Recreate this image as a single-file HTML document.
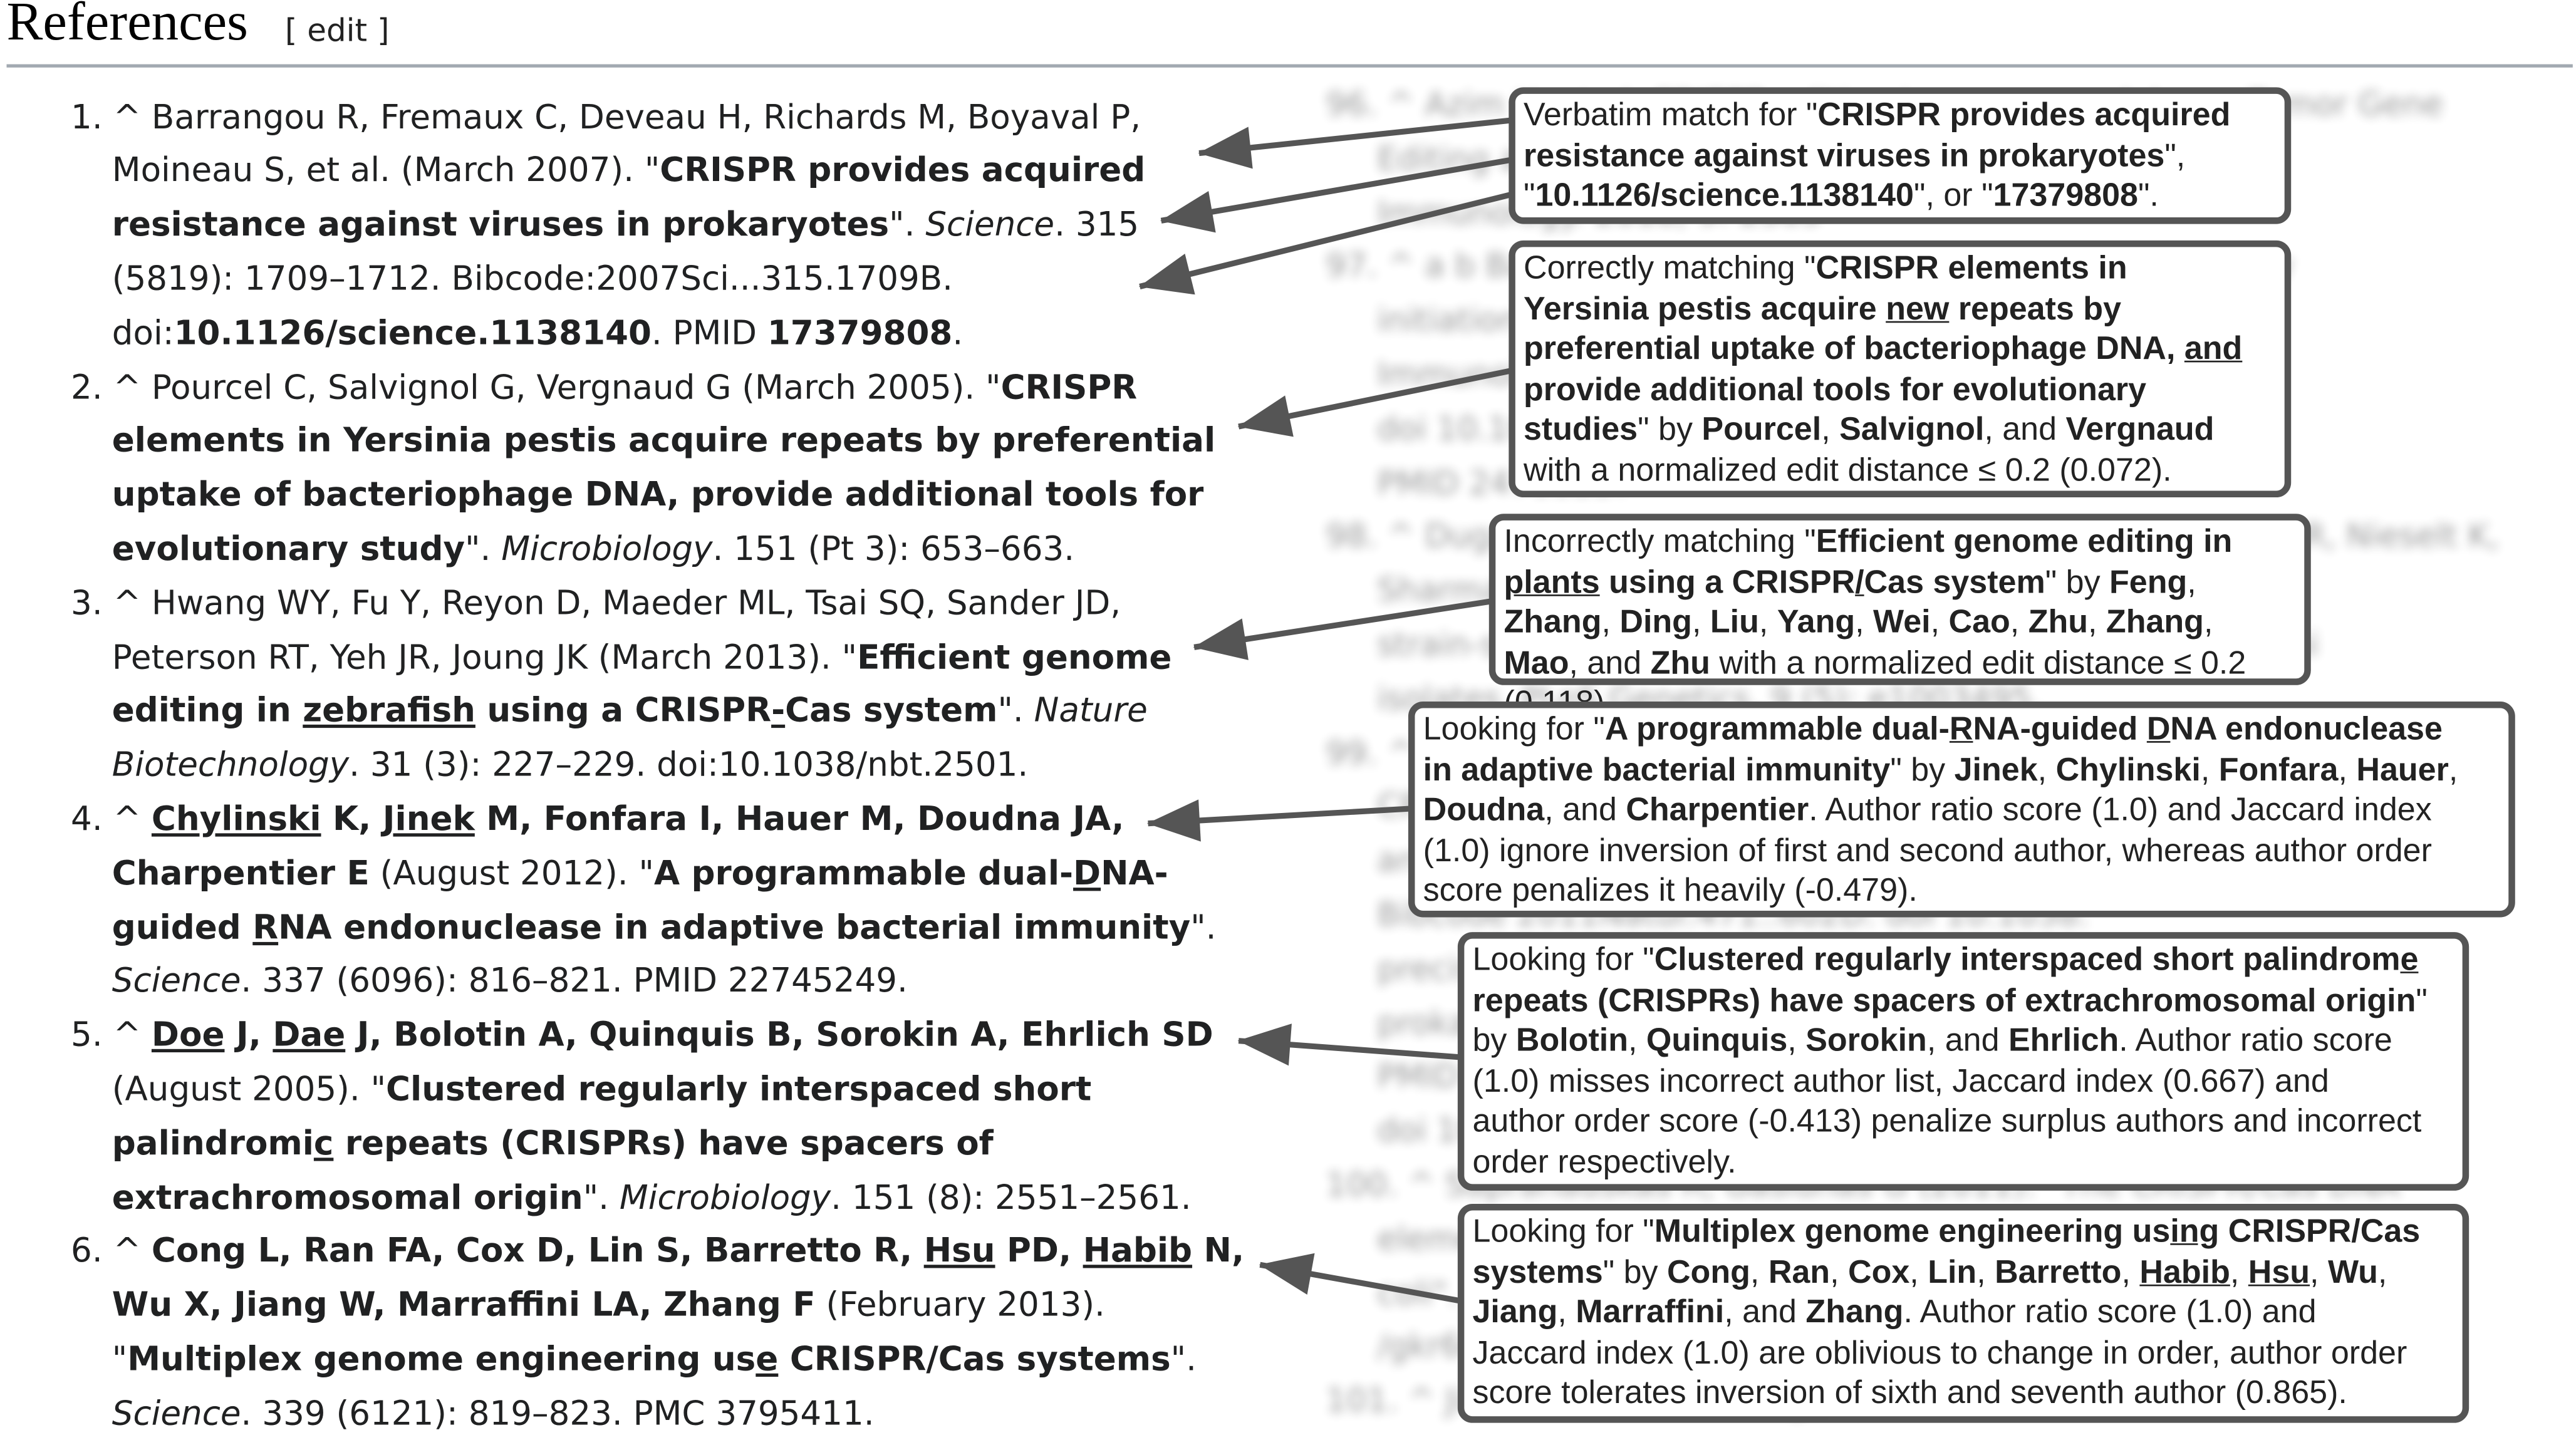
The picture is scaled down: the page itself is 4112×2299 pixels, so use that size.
<!DOCTYPE html>
<html><head><meta charset="utf-8"><style>
html,body{margin:0;padding:0;background:#fff;width:4112px;height:2292px;overflow:hidden}
#s{position:absolute;left:0;top:0;width:1564px;height:872px;transform:scale(2.6292);transform-origin:0 0}
.h{position:absolute;left:4px;top:-4px;font-family:"Liberation Serif",serif;font-size:33px;color:#000}
.ed{position:absolute;left:173px;top:8px;font-family:"DejaVu Sans",sans-serif;font-size:19px;color:#222}
.rule{position:absolute;left:4px;top:39px;width:1558px;height:2px;background:#a2a9b1}
.L{position:absolute;font-family:"DejaVu Sans",sans-serif;font-size:20.2px;color:#202122;white-space:nowrap;line-height:32.8px}
.bl{position:absolute;left:805px;top:48px;width:760px;font-family:"DejaVu Sans",sans-serif;font-size:19.6px;color:#202122;line-height:32.8px;filter:blur(3px);opacity:.45;white-space:nowrap}
.box{position:absolute;border:4px solid #555;border-radius:9px;background:#fff;font-family:"Liberation Sans",sans-serif;font-size:19.8px;line-height:24.5px;color:#222;padding:1px 5px;box-sizing:border-box;white-space:nowrap}
b{font-weight:bold}
u{text-decoration:underline}
</style></head><body>
<div id="s">
<div class="h">References</div>
<div class="ed">[ edit ]</div>
<div class="rule"></div>

<div class="bl">
<div>96. ^ Azim H, et al. CRISPR editing in mouse models em Tumor Gene</div>
<div>&nbsp;&nbsp;&nbsp;&nbsp;&nbsp;Editing approaches and therapies. Frontiers in</div>
<div>&nbsp;&nbsp;&nbsp;&nbsp;&nbsp;Immunology. 2018; 9: 2303</div>
<div>97. ^ a b Barrangou R, Marraffini LA. CRISPR viral immunity</div>
<div>&nbsp;&nbsp;&nbsp;&nbsp;&nbsp;initiation and adaptive immunity in bacteria".</div>
<div>&nbsp;&nbsp;&nbsp;&nbsp;&nbsp;Immunology. 2014 (5): 2351-2346.</div>
<div>&nbsp;&nbsp;&nbsp;&nbsp;&nbsp;doi 10.1016/j.molcel.2014.03.000.</div>
<div>&nbsp;&nbsp;&nbsp;&nbsp;&nbsp;PMID 24766887</div>
<div>98. ^ Dugar G, Herbig A, Förstner KU, Heidrich N, Reinhardt R, Nieselt K,</div>
<div>&nbsp;&nbsp;&nbsp;&nbsp;&nbsp;Sharma CM. High-resolution transcriptome maps reveal</div>
<div>&nbsp;&nbsp;&nbsp;&nbsp;&nbsp;strain-specific regulatory features of Campylobacter jejuni</div>
<div>&nbsp;&nbsp;&nbsp;&nbsp;&nbsp;isolates. PLoS Genetics. 9 (5): e1003495.</div>
<div>99. ^ Deltcheva E, Chylinski K, Sharma CM, Gonzales K.</div>
<div>&nbsp;&nbsp;&nbsp;&nbsp;&nbsp;CRISPR RNA maturation by trans-encoded small RNA</div>
<div>&nbsp;&nbsp;&nbsp;&nbsp;&nbsp;and host factor RNase III. Nature 471 (7340).</div>
<div>&nbsp;&nbsp;&nbsp;&nbsp;&nbsp;Bibcode 2011Natur.471..602D. doi 10.1038.</div>
<div>&nbsp;&nbsp;&nbsp;&nbsp;&nbsp;precise RNA-guided cleavage hallmarks of the family of</div>
<div>&nbsp;&nbsp;&nbsp;&nbsp;&nbsp;prokaryotic immune systems. Biology Direct 1 22.</div>
<div>&nbsp;&nbsp;&nbsp;&nbsp;&nbsp;PMID 16545108</div>
<div>&nbsp;&nbsp;&nbsp;&nbsp;&nbsp;doi 10.1186/1745-6150-1-7.</div>
<div>100. ^ Sapranauskas R, Gasiunas G (2011). "The CRISPR/Cas DNA</div>
<div>&nbsp;&nbsp;&nbsp;&nbsp;&nbsp;element system provides immunity in Escherichia</div>
<div>&nbsp;&nbsp;&nbsp;&nbsp;&nbsp;coli". Nucleic Acids Research. 39 (21) Sormar</div>
<div>&nbsp;&nbsp;&nbsp;&nbsp;&nbsp;/gkr606. PMID 21813460.</div>
<div>101. ^ Jinek M, East A, Cheng A (2013). eLife 2.</div>
</div>

<div class="L" style="left:43px;top:54.6px">
<div>1. ^ Barrangou R, Fremaux C, Deveau H, Richards M, Boyaval P,</div>
<div style="padding-left:25px">Moineau S, et al. (March 2007). "<b>CRISPR provides acquired</b></div>
<div style="padding-left:25px"><b>resistance against viruses in prokaryotes</b>". <i>Science</i>. 315</div>
<div style="padding-left:25px">(5819): 1709–1712. Bibcode:2007Sci...315.1709B.</div>
<div style="padding-left:25px">doi:<b>10.1126/science.1138140</b>. PMID <b>17379808</b>.</div>
<div>2. ^ Pourcel C, Salvignol G, Vergnaud G (March 2005). "<b>CRISPR</b></div>
<div style="padding-left:25px"><b>elements in Yersinia pestis acquire repeats by preferential</b></div>
<div style="padding-left:25px"><b>uptake of bacteriophage DNA, provide additional tools for</b></div>
<div style="padding-left:25px"><b>evolutionary study</b>". <i>Microbiology</i>. 151 (Pt 3): 653–663.</div>
<div>3. ^ Hwang WY, Fu Y, Reyon D, Maeder ML, Tsai SQ, Sander JD,</div>
<div style="padding-left:25px">Peterson RT, Yeh JR, Joung JK (March 2013). "<b>Efficient genome</b></div>
<div style="padding-left:25px"><b>editing in <u>zebrafish</u> using a CRISPR<u>-</u>Cas system</b>". <i>Nature</i></div>
<div style="padding-left:25px"><i>Biotechnology</i>. 31 (3): 227–229. doi:10.1038/nbt.2501.</div>
<div>4. ^ <b><u>Chylinski</u> K, <u>Jinek</u> M, Fonfara I, Hauer M, Doudna JA,</b></div>
<div style="padding-left:25px"><b>Charpentier E</b> (August 2012). "<b>A programmable dual-<u>D</u>NA-</b></div>
<div style="padding-left:25px"><b>guided <u>R</u>NA endonuclease in adaptive bacterial immunity</b>".</div>
<div style="padding-left:25px"><i>Science</i>. 337 (6096): 816–821. PMID 22745249.</div>
<div>5. ^ <b><u>Doe</u> J, <u>Dae</u> J, Bolotin A, Quinquis B, Sorokin A, Ehrlich SD</b></div>
<div style="padding-left:25px">(August 2005). "<b>Clustered regularly interspaced short</b></div>
<div style="padding-left:25px"><b>palindromi<u>c</u> repeats (CRISPRs) have spacers of</b></div>
<div style="padding-left:25px"><b>extrachromosomal origin</b>". <i>Microbiology</i>. 151 (8): 2551–2561.</div>
<div>6. ^ <b>Cong L, Ran FA, Cox D, Lin S, Barretto R, <u>Hsu</u> PD, <u>Habib</u> N,</b></div>
<div style="padding-left:25px"><b>Wu X, Jiang W, Marraffini LA, Zhang F</b> (February 2013).</div>
<div style="padding-left:25px">"<b>Multiplex genome engineering us<u>e</u> CRISPR/Cas systems</b>".</div>
<div style="padding-left:25px"><i>Science</i>. 339 (6121): 819–823. PMC 3795411.</div>
</div>

<svg style="position:absolute;left:0;top:0" width="1564" height="872">
<defs><marker id="ah" markerWidth="10" markerHeight="8" refX="9" refY="4" orient="auto" markerUnits="userSpaceOnUse" viewBox="0 0 10 8" style="overflow:visible"><path d="M0,0 L10,4 L0,8 z" fill="#555" transform="scale(3.2) translate(-7,-2.75)"/></marker></defs>
<g stroke="#555" stroke-width="3.5" fill="none">
<line x1="918" y1="73" x2="728" y2="93" marker-end="url(#ah)"/>
<line x1="918" y1="97" x2="705" y2="134" marker-end="url(#ah)"/>
<line x1="918" y1="118" x2="692" y2="174" marker-end="url(#ah)"/>
<line x1="918" y1="225" x2="752" y2="259" marker-end="url(#ah)"/>
<line x1="906" y1="365" x2="725" y2="393" marker-end="url(#ah)"/>
<line x1="857" y1="491" x2="697" y2="500" marker-end="url(#ah)"/>
<line x1="887" y1="642" x2="752" y2="632" marker-end="url(#ah)"/>
<line x1="887" y1="790" x2="765" y2="768" marker-end="url(#ah)"/>
</g></svg>

<div class="box" style="left:916px;top:53px;width:475px;height:83px">
Verbatim match for "<b>CRISPR provides acquired</b><br><b>resistance against viruses in prokaryotes</b>",<br>"<b>10.1126/science.1138140</b>", or "<b>17379808</b>".</div>

<div class="box" style="left:916px;top:146px;width:475px;height:156px">
Correctly matching "<b>CRISPR elements in</b><br><b>Yersinia pestis acquire <u>new</u> repeats by</b><br><b>preferential uptake of bacteriophage DNA, <u>and</u></b><br><b>provide additional tools for evolutionary</b><br><b>studies</b>" by <b>Pourcel</b>, <b>Salvignol</b>, and <b>Vergnaud</b><br>with a normalized edit distance ≤ 0.2 (0.072).</div>

<div class="box" style="left:904px;top:312px;width:499px;height:104px;overflow:visible">
Incorrectly matching "<b>Efficient genome editing in</b><br><b><u>plants</u> using a CRISPR<u>/</u>Cas system</b>" by <b>Feng</b>,<br><b>Zhang</b>, <b>Ding</b>, <b>Liu</b>, <b>Yang</b>, <b>Wei</b>, <b>Cao</b>, <b>Zhu</b>, <b>Zhang</b>,<br><b>Mao</b>, and <b>Zhu</b> with a normalized edit distance ≤ 0.2<br>(0.118).</div>

<div class="box" style="left:855px;top:426px;width:672px;height:131px">
Looking for "<b>A programmable dual-<u>R</u>NA-guided <u>D</u>NA endonuclease</b><br><b>in adaptive bacterial immunity</b>" by <b>Jinek</b>, <b>Chylinski</b>, <b>Fonfara</b>, <b>Hauer</b>,<br><b>Doudna</b>, and <b>Charpentier</b>. Author ratio score (1.0) and Jaccard index<br>(1.0) ignore inversion of first and second author, whereas author order<br>score penalizes it heavily (-0.479).</div>

<div class="box" style="left:885px;top:566px;width:614px;height:157px">
Looking for "<b>Clustered regularly interspaced short palindrom<u>e</u></b><br><b>repeats (CRISPRs) have spacers of extrachromosomal origin</b>"<br>by <b>Bolotin</b>, <b>Quinquis</b>, <b>Sorokin</b>, and <b>Ehrlich</b>. Author ratio score<br>(1.0) misses incorrect author list, Jaccard index (0.667) and<br>author order score (-0.413) penalize surplus authors and incorrect<br>order respectively.</div>

<div class="box" style="left:885px;top:731px;width:614px;height:133px">
Looking for "<b>Multiplex genome engineering us<u>ing</u> CRISPR/Cas</b><br><b>systems</b>" by <b>Cong</b>, <b>Ran</b>, <b>Cox</b>, <b>Lin</b>, <b>Barretto</b>, <b><u>Habib</u></b>, <b><u>Hsu</u></b>, <b>Wu</b>,<br><b>Jiang</b>, <b>Marraffini</b>, and <b>Zhang</b>. Author ratio score (1.0) and<br>Jaccard index (1.0) are oblivious to change in order, author order<br>score tolerates inversion of sixth and seventh author (0.865).</div>
</div>
</body></html>
